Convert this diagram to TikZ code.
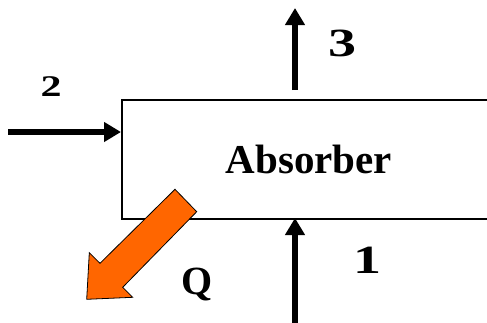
\documentclass[tikz,border=0pt]{standalone}
\usepackage{fontspec}
\setmainfont{Liberation Serif}
\usetikzlibrary{arrows.meta}
\definecolor{qorange}{HTML}{FF6600}
\newcommand{\widedigit}[1]{\scalebox{1.4}[1]{#1}}
\tikzset{
  flow/.style={line width=5.5pt,-{Triangle[length=17pt,width=19pt]}},
  lbl/.style={font=\bfseries\fontsize{40}{42}\selectfont,inner sep=0pt},
  boxstyle/.style={draw,line width=2pt,minimum width=374pt,minimum height=119pt,inner sep=0pt,font=\bfseries\fontsize{41}{44}\selectfont}
}
\begin{document}
\begin{tikzpicture}[x=1pt,y=-1pt]
\useasboundingbox (0,0) rectangle (487,322);
\node[boxstyle] (box) at (309,159.5) {Absorber};
% stream 2
\coordinate (s2) at (8,132);
\draw[flow] (s2) -- (s2 -| box.west);
\node[lbl,font=\bfseries\fontsize{30}{32}\selectfont] (l2) at (51,87) {\widedigit{2}};
% stream 3
\coordinate (s3a) at (295,90);
\coordinate (s3b) at (295,8);
\draw[flow] (s3a) -- (s3b);
\node[lbl] (l3) at (342,43) {\widedigit{3}};
% stream 1
\coordinate (s1) at (295,324);
\draw[flow] (s1) -- ([yshift=2pt]s1 |- box.south);
\node[lbl] (l1) at (367.5,260) {\widedigit{1}};
% heat Q
\draw[fill=qorange,line width=0.8pt,line join=miter]
  (175,189.3) -- (196.7,211.7) -- (122.7,287.3) -- (132.7,297.3) -- (86.7,299.3)
  -- (89.3,252.7) -- (100,263.3) -- cycle;
\node[lbl] (lq) at (197,284) {Q};
\end{tikzpicture}
\end{document}
